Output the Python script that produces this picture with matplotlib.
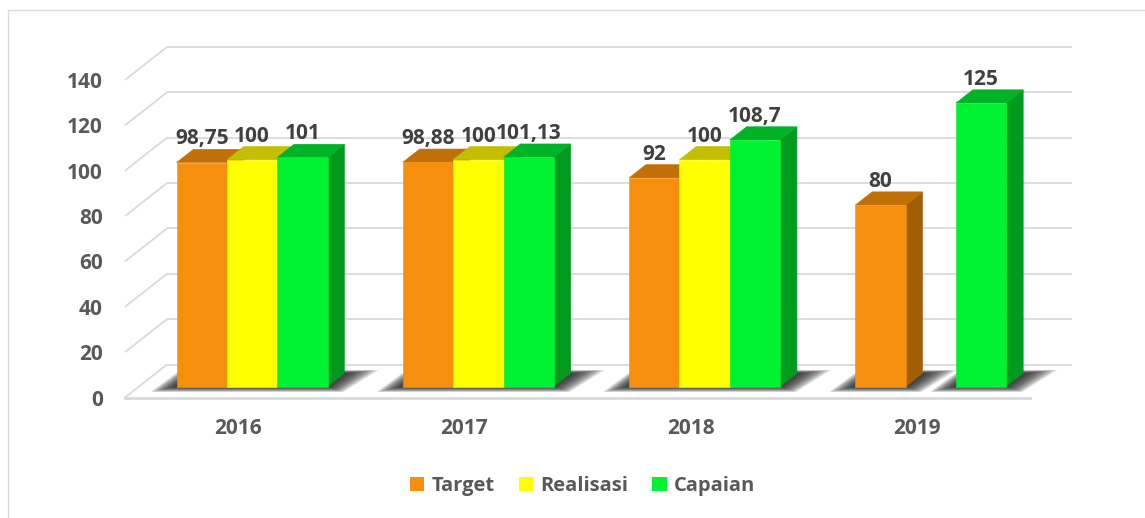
import numpy as np
import matplotlib
matplotlib.use('Agg')
import matplotlib.pyplot as plt
from matplotlib.patches import Polygon, Patch, Rectangle
import matplotlib.transforms as mtransforms

plt.rcParams['font.family'] = ['Open Sans', 'DejaVu Sans']
plt.rcParams['font.weight'] = 'bold'

# ---------------- data ----------------
categories = ['2016', '2017', '2018', '2019']
series_names = ['Target', 'Realisasi', 'Capaian']
target = [98.75, 98.88, 92, 80]
realisasi = [100, 100, 100, np.nan]
capaian = [101, 101.13, 108.7, 125]
y_ticks = [0, 20, 40, 60, 80, 100, 120, 140]

series_values = [target, realisasi, capaian]
front_colors = ['#F78F0E', '#FFFF00', '#00F032']
top_colors = ['#C07006', '#C4BE00', '#00B326']
side_colors = ['#A35E05', '#A8A300', '#009A1F']

# ---------------- geometry (pixels) ----------------
W, H = 1145, 518
X0, Y0 = 125, 397.5          # pixel of (x=-0.5, y=0) on the front plane
PXX, PXY = 226.25, 2.268     # pixels per category / per value unit
RIGHT_PX = 1080
YTOP = 165

fig = plt.figure(figsize=(W / 100, H / 100), dpi=100)
ax = fig.add_axes([X0 / W, (H - Y0) / H, (RIGHT_PX - X0) / W, YTOP * PXY / H])
ax.set_xlim(-0.5, -0.5 + (RIGHT_PX - X0) / PXX)
ax.set_ylim(0, YTOP)
for s in ax.spines.values():
    s.set_visible(False)
ax.patch.set_alpha(0)

# depth vector of the whole floor, in data units
DDX = 42 / PXX
DDY = 33 / PXY
F0 = 1 / 3      # depth where bar front faces sit
FB = 0.4        # bar depth
bdx, bdy = FB * DDX, FB * DDY
n_cat = len(categories)
xmin, xmax = -0.5, n_cat - 0.5

grid_kw = dict(color='#D9D9D9', lw=1.3, solid_capstyle='butt', zorder=1, clip_on=False)
for v in y_ticks:
    ax.plot([xmin + DDX, xmax + DDX], [v + DDY, v + DDY], **grid_kw)
    ax.plot([xmin, xmin + DDX], [v, v + DDY], **grid_kw)
ax.plot([xmin, xmax], [0, 0], color='#D9D9D9', lw=2.0, zorder=1, clip_on=False)

trans_bar = mtransforms.Affine2D().translate(F0 * DDX, F0 * DDY) + ax.transData

bw = 0.2225
offsets = [(j - 1) * bw for j in range(len(series_names))]
x_idx = np.arange(n_cat)

# ---------------- shadows ----------------
for i in range(n_cat):
    runs, cur = [], []
    for j in range(len(series_names)):
        if not np.isnan(series_values[j][i]):
            cur.append(j)
        else:
            if cur:
                runs.append(cur)
            cur = []
    if cur:
        runs.append(cur)
    for run in runs:
        xl = i + offsets[run[0]] - bw / 2
        xr = i + offsets[run[-1]] + bw / 2
        nl = 10
        for k in range(nl):
            t = 1 - k / nl
            ex = 0.11 * t + 0.005
            ey = 2.4 * t
            poly = [(xl - ex, -ey), (xr + ex * 0.6, -ey),
                    (xr + bdx + ex * 1.3, bdy + ey * 0.6), (xl + bdx - ex * 0.5, bdy + ey * 0.6)]
            ax.add_patch(Polygon(poly, closed=True, facecolor='#1a1a1a', edgecolor='none',
                                 alpha=0.15, transform=trans_bar, zorder=2, clip_on=False))

# ---------------- bars ----------------
for j, name in enumerate(series_names):
    vals = np.array(series_values[j], dtype=float)
    z = 3 + j * 0.1
    for i in range(n_cat):
        h = vals[i]
        if np.isnan(h):
            continue
        xl = i + offsets[j] - bw / 2
        xr = xl + bw
        side = [(xr, 0), (xr + bdx, bdy), (xr + bdx, h + bdy), (xr, h)]
        top = [(xl, h), (xr, h), (xr + bdx, h + bdy), (xl + bdx, h + bdy)]
        ax.add_patch(Polygon(side, closed=True, facecolor=side_colors[j], edgecolor=side_colors[j],
                             lw=0.4, transform=trans_bar, zorder=z + 0.01, clip_on=False))
        ax.add_patch(Polygon(top, closed=True, facecolor=top_colors[j], edgecolor=top_colors[j],
                             lw=0.4, transform=trans_bar, zorder=z + 0.02, clip_on=False))
        ax.annotate(f"{h:g}".replace('.', ','), xy=(i + offsets[j], h + bdy), xycoords=trans_bar,
                    xytext=(0, 3.5), textcoords='offset points', ha='center', va='baseline',
                    fontsize=15, fontweight='bold', color='#404040', zorder=10)
    ax.bar(x_idx + offsets[j], vals, width=bw, color=front_colors[j], edgecolor=front_colors[j],
           lw=0.4, transform=trans_bar, zorder=z + 0.03, clip_on=False, label=name)

# ---------------- axes labels ----------------
ax.set_yticks(y_ticks)
ax.set_yticklabels([str(v) for v in y_ticks])
ax.set_xticks(x_idx)
ax.set_xticklabels(categories)
ax.tick_params(axis='y', length=0, pad=16, labelsize=15, labelcolor='#595959')
ax.tick_params(axis='x', length=0, pad=15, labelsize=15, labelcolor='#595959')
for lab in ax.get_xticklabels() + ax.get_yticklabels():
    lab.set_fontweight('bold')

# ---------------- legend ----------------
handles = [Patch(facecolor=c, edgecolor='none') for c in front_colors]
leg = fig.legend(handles, series_names, loc='center', bbox_to_anchor=(582.5 / W, (H - 486) / H),
                 ncol=3, frameon=False, handlelength=0.72, handleheight=0.72, handletextpad=0.35,
                 columnspacing=1.2, prop={'size': 14.5, 'weight': 'bold'})
for t in leg.get_texts():
    t.set_color('#595959')

# ---------------- border ----------------
fig.add_artist(Rectangle((8 / W, -0.1), 1.2, (H - 10) / H + 0.1, transform=fig.transFigure,
                         fill=False, edgecolor='#D9D9D9', lw=1.0, clip_on=False))

fig.savefig('out.png', dpi=100)
